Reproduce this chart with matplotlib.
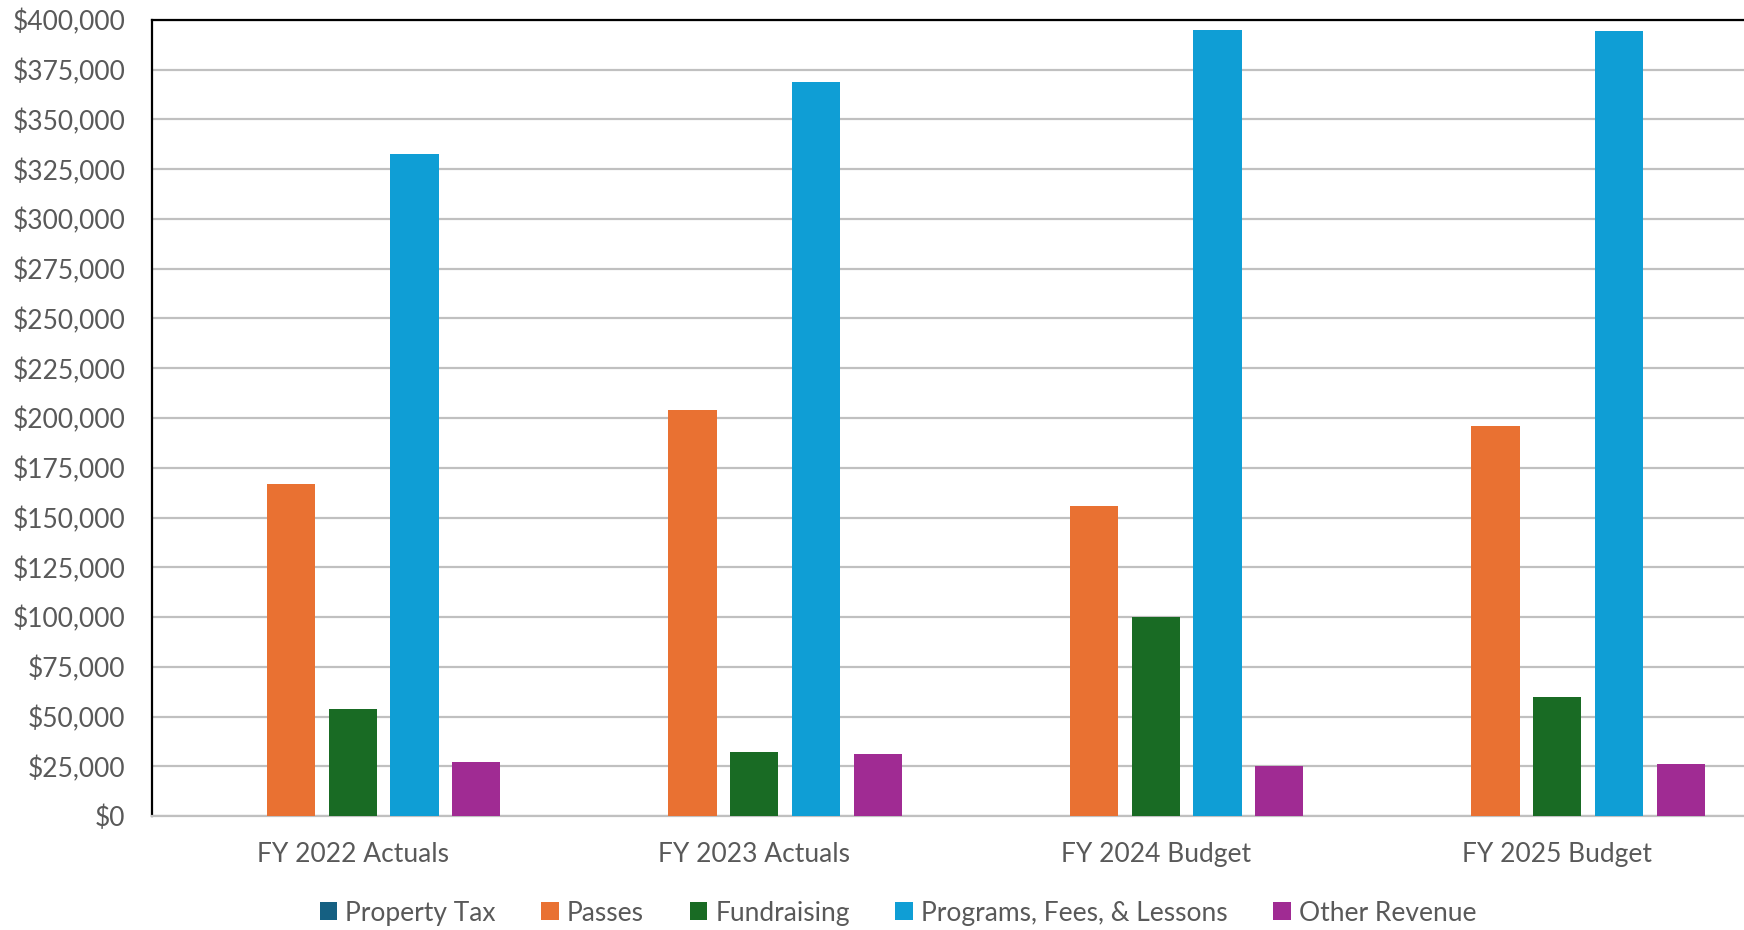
"""Revenue by source: actuals vs budget, grouped bar chart"""

import numpy as np
import matplotlib
matplotlib.use("Agg")
import matplotlib.pyplot as plt
from matplotlib.ticker import FuncFormatter, MultipleLocator

plt.rcParams["font.family"] = ["Lato", "DejaVu Sans"]

YEARS = ["FY 2022 Actuals", "FY 2023 Actuals", "FY 2024 Budget", "FY 2025 Budget"]
SOURCES = ["Property Tax", "Passes", "Fundraising", "Programs, Fees, & Lessons", "Other Revenue"]

property_tax = [0, 0, 0, 0]
passes = [167_000, 204_000, 156_000, 196_000]
fundraising = [54_000, 32_000, 100_000, 60_000]
programs = [332_500, 369_000, 395_000, 394_500]
other_revenue = [27_000, 31_000, 25_000, 26_000]

COLORS = ["#156082", "#E97132", "#196B24", "#0F9ED5", "#A02B93"]
TEXT = "#595959"
GRID = "#C0C0C0"

series = [property_tax, passes, fundraising, programs, other_revenue]

fig = plt.figure(figsize=(17.44, 9.30), dpi=100)
ax = fig.add_axes([152 / 1744, 1 - 816 / 930, 1606 / 1744, 796 / 930])

x = np.arange(len(YEARS))
pitch = 0.1537
width = 0.1203
for i, (name, vals, col) in enumerate(zip(SOURCES, series, COLORS)):
    ax.bar(x + (i - 2) * pitch, vals, width, color=col, label=name, zorder=3)

ax.set_xlim(-0.5, len(YEARS) - 0.5)
ax.set_ylim(0, 400_000)
ax.yaxis.set_major_locator(MultipleLocator(25_000))
ax.yaxis.set_major_formatter(FuncFormatter(lambda v, _: f"${v:,.0f}"))
ax.set_xticks(x)
ax.set_xticklabels(YEARS)

ax.grid(True, axis="y", color=GRID, linewidth=1.6, zorder=0)
ax.tick_params(axis="y", length=0, pad=19, labelsize=19, labelcolor=TEXT)
ax.tick_params(axis="x", length=0, pad=19, labelsize=19, labelcolor=TEXT)

ax.spines["left"].set_color("black")
ax.spines["left"].set_linewidth(1.6)
ax.spines["top"].set_color("black")
ax.spines["top"].set_linewidth(1.6)
ax.spines["bottom"].set_color(GRID)
ax.spines["bottom"].set_linewidth(1.6)
ax.spines["right"].set_visible(False)

fig.legend(loc="center", bbox_to_anchor=(898 / 1744, 1 - 913 / 930), ncol=5,
           frameon=False, fontsize=19, labelcolor=TEXT,
           handlelength=0.66, handleheight=0.66, handletextpad=0.32,
           columnspacing=1.72, borderaxespad=0)

fig.savefig("out.png", dpi=100)
